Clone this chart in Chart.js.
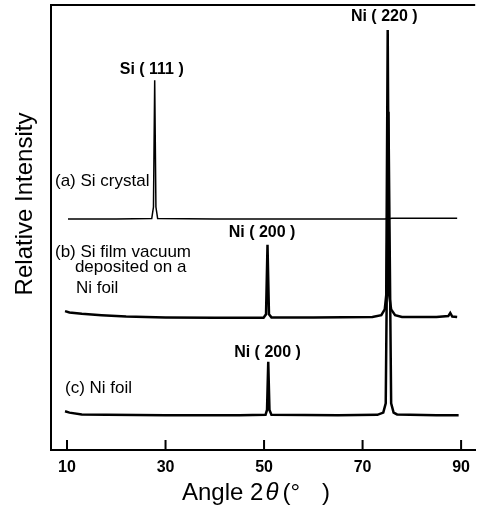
<!DOCTYPE html>
<html>
<head>
<meta charset="utf-8">
<script src="https://cdn.jsdelivr.net/npm/chart.js@4.4.1/dist/chart.umd.min.js"></script>
<style>
  html, body { margin: 0; padding: 0; background: #fff; }
  #wrap { width: 478px; height: 510px; }
</style>
</head>
<body>
<div id="wrap"><canvas id="xrd"></canvas></div>
<script>
// XRD patterns (intensity in arbitrary units, traces stacked)
const angleA = [10.2, 20, 27.2, 27.55, 27.8, 28.05, 28.4, 40, 60, 74.5, 76, 89.2];
const intensityA = [51.9, 51.9, 52.0, 54.6, 83.1, 54.6, 52.0, 51.9, 51.9, 51.9, 52.1, 52.1];

const angleB = [9.6, 10.5, 13, 17, 22, 30, 40, 49.9, 50.4, 50.7, 51.0, 51.5, 60, 72, 73.8, 74.5, 74.8, 75.1, 75.4, 75.8, 76.6, 78, 85, 87.4, 87.8, 88.2, 89.2];
const intensityB = [31.2, 30.9, 30.6, 30.3, 30.0, 29.8, 29.7, 29.7, 30.5, 46.1, 30.5, 29.8, 29.8, 29.9, 30.3, 31.6, 34.8, 94.4, 34.8, 31.6, 30.3, 29.9, 29.9, 30.1, 30.8, 30.0, 29.9];

const angleC = [9.6, 10.5, 13, 18, 30, 45, 50.3, 50.6, 50.85, 51.1, 51.5, 65, 73, 74.2, 74.7, 75.25, 75.8, 76.3, 77, 85, 89.5];
const intensityC = [8.7, 8.4, 8.0, 7.9, 7.8, 7.8, 7.9, 9.0, 19.8, 9.0, 7.9, 7.8, 7.9, 8.4, 10.5, 76.0, 10.5, 8.4, 8.0, 7.8, 7.8];

const xTicks = [10, 30, 50, 70, 90];

// peak labels [text, angle, intensity]
const peakLabels = [
    ['Si ( 111 )', 27.2, 85.4],
    ['Ni ( 220 )', 74.4, 97.3],
    ['Ni ( 200 )', 49.6, 48.8],
    ['Ni ( 200 )', 50.7, 22.0]
];
// sample labels [text, angle, intensity]
const sampleLabels = [
    ['(a) Si crystal', 7.56, 60.4],
    ['(b) Si film vacuum', 7.56, 44.5],
    ['deposited on a', 11.6, 41.1],
    ['Ni foil', 11.8, 36.4],
    ['(c) Ni foil', 9.6, 13.9]
];

const FONT = "'Liberation Sans', Arial, sans-serif";

function toPoints(xs, ys) {
    return xs.map((x, i) => ({ x: x, y: ys[i] }));
}

const annotate = {
    id: 'annotate',
    afterDraw(chart) {
        const ctx = chart.ctx;
        const xs = chart.scales.x;
        const ys = chart.scales.y;
        const area = chart.chartArea;
        ctx.save();
        ctx.strokeStyle = '#000';
        ctx.fillStyle = '#000';
        ctx.lineWidth = 2;
        // frame top + inward ticks
        ctx.beginPath();
        ctx.moveTo(area.left, area.top);
        ctx.lineTo(area.right, area.top);
        xTicks.forEach(t => {
            const px = xs.getPixelForValue(t);
            ctx.moveTo(px, area.bottom);
            ctx.lineTo(px, area.bottom - 10);
        });
        ctx.stroke();

        ctx.textBaseline = 'middle';
        ctx.font = 'bold 16px ' + FONT;
        ctx.textAlign = 'center';
        peakLabels.forEach(l => ctx.fillText(l[0], xs.getPixelForValue(l[1]), ys.getPixelForValue(l[2])));

        ctx.font = '17px ' + FONT;
        ctx.textAlign = 'left';
        sampleLabels.forEach(l => ctx.fillText(l[0], xs.getPixelForValue(l[1]), ys.getPixelForValue(l[2])));

        // y title
        ctx.save();
        ctx.translate(25, 204);
        ctx.rotate(-Math.PI / 2);
        ctx.textAlign = 'center';
        ctx.font = '24px ' + FONT;
        ctx.fillText('Relative Intensity', 0, 0);
        ctx.restore();

        // x title: Angle 2θ (°  )
        ctx.textAlign = 'left';
        let x = 182;
        const y = 493;
        ctx.font = '24px ' + FONT;
        ctx.fillText('Angle 2', x, y);
        x += ctx.measureText('Angle 2').width + 2;
        ctx.font = 'italic 24px ' + FONT;
        ctx.fillText('θ', x, y);
        x += ctx.measureText('θ').width + 4;
        ctx.font = '24px ' + FONT;
        ctx.fillText('(°', x, y);
        ctx.fillText(')', 322, y);
        ctx.restore();
    }
};

new Chart(document.getElementById('xrd'), {
    type: 'scatter',
    data: {
        datasets: [
            { label: '(a)', data: toPoints(angleA, intensityA), borderWidth: 1.5 },
            { label: '(b)', data: toPoints(angleB, intensityB), borderWidth: 2.5 },
            { label: '(c)', data: toPoints(angleC, intensityC), borderWidth: 2.5 }
        ].map(d => Object.assign(d, { showLine: true, pointRadius: 0, borderColor: '#000', tension: 0 }))
    },
    options: {
        responsive: true,
        maintainAspectRatio: false,
        animation: false,
        layout: { padding: { top: 5, right: 0, left: 0, bottom: 0 } },
        plugins: { legend: { display: false }, tooltip: { enabled: false } },
        scales: {
            x: {
                type: 'linear',
                min: 6.75,
                max: 92.86,
                afterBuildTicks: s => { s.ticks = xTicks.map(v => ({ value: v })); },
                afterFit: s => { s.height = 60; },
                grid: { display: false, drawTicks: false },
                border: { display: true, color: '#000', width: 2 },
                ticks: { color: '#000', padding: 8, maxRotation: 0, autoSkip: false, font: { family: FONT, size: 16, weight: 'bold' } }
            },
            y: {
                type: 'linear',
                min: 0,
                max: 100,
                afterFit: s => { s.width = 51; },
                grid: { display: false, drawTicks: false },
                border: { display: true, color: '#000', width: 2 },
                ticks: { display: false }
            }
        }
    },
    plugins: [annotate]
});
</script>
</body>
</html>
